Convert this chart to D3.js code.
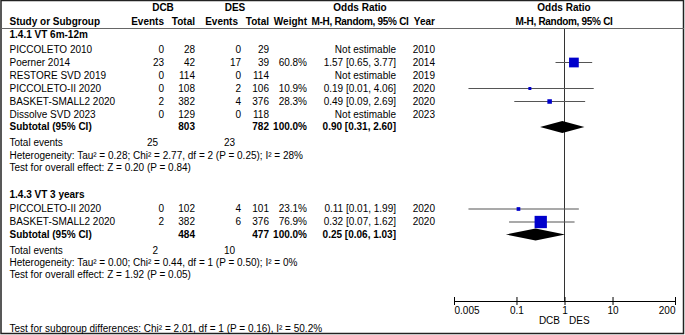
<!DOCTYPE html>
<html lang="en">
<head>
<meta charset="UTF-8">
<title>Forest Plot</title>
<style>
  body { margin: 0; background: #fff; }
  svg text { font-family: "Liberation Sans", Arial, sans-serif; font-size: 10px; fill: #000; }
  .b { font-weight: bold; }
</style>
</head>
<body>
<div id="chart"></div>
<script src="https://d3js.org/d3.v7.min.js"></script>
<script>
// ---- data ----
const g1Title = "1.4.1 VT 6m-12m";
const g1Names = ["PICCOLETO 2010", "Poerner 2014", "RESTORE SVD 2019", "PICCOLETO-II 2020", "BASKET-SMALL2 2020", "Dissolve SVD 2023"];
const g1DcbEvents = [0, 23, 0, 0, 2, 0];
const g1DcbTotal = [28, 42, 114, 108, 382, 129];
const g1DesEvents = [0, 17, 0, 2, 4, 0];
const g1DesTotal = [29, 39, 114, 106, 376, 118];
const g1Weight = [null, 60.8, null, 10.9, 28.3, null];
const g1OR = [null, 1.57, null, 0.19, 0.49, null];
const g1Lo = [null, 0.65, null, 0.01, 0.09, null];
const g1Hi = [null, 3.77, null, 4.06, 2.69, null];
const g1Year = [2010, 2014, 2019, 2020, 2020, 2023];
const g1Sub = [0.90, 0.31, 2.60];
const g1Het = "Heterogeneity: Tau² = 0.28; Chi² = 2.77, df = 2 (P = 0.25); I² = 28%";
const g1Test = "Test for overall effect: Z = 0.20 (P = 0.84)";

const g2Title = "1.4.3 VT 3 years";
const g2Names = ["PICCOLETO-II 2020", "BASKET-SMALL2 2020"];
const g2DcbEvents = [0, 2];
const g2DcbTotal = [102, 382];
const g2DesEvents = [4, 6];
const g2DesTotal = [101, 376];
const g2Weight = [23.1, 76.9];
const g2OR = [0.11, 0.32];
const g2Lo = [0.01, 0.07];
const g2Hi = [1.99, 1.62];
const g2Year = [2020, 2020];
const g2Sub = [0.25, 0.06, 1.03];
const g2Het = "Heterogeneity: Tau² = 0.00; Chi² = 0.44, df = 1 (P = 0.50); I² = 0%";
const g2Test = "Test for overall effect: Z = 1.92 (P = 0.05)";

const subgroupTest = "Test for subgroup differences: Chi² = 2.01, df = 1 (P = 0.16), I² = 50.2%";
const axisTicks = [0.005, 0.1, 1, 10, 200];

// ---- layout ----
const W = 685, H = 335;
const svg = d3.select("#chart").append("svg").attr("width", W).attr("height", H);
svg.append("rect").attr("x", 1).attr("y", 0.5).attr("width", W - 2.5).attr("height", H - 2)
  .attr("fill", "#fff").attr("stroke", "#222").attr("stroke-width", 1.5);

const x = d3.scaleLog().domain([0.005, 200]).range([454, 675]);
const boxSize = d3.scaleLinear().domain([0, 100]).range([0, 16]);
const fmt = d3.format(".2f");
const ciText = (o, l, h) => `${fmt(o)} [${fmt(l)}, ${fmt(h)}]`;

const col = { name: 9.5, dcbE: 164, dcbT: 195, desE: 241, desT: 269, wt: 307, ci: 396, year: 435 };

function txt(xp, y, s, anchor, bold) {
  return svg.append("text").attr("x", xp).attr("y", y + 3.5)
    .attr("text-anchor", anchor || "start").attr("class", bold ? "b" : null).text(s);
}

// header
txt(163, 7, "DCB", "middle", true);
txt(235, 7, "DES", "middle", true);
txt(360, 7, "Odds Ratio", "middle", true);
txt(564, 7, "Odds Ratio", "middle", true);
txt(col.name, 21, "Study or Subgroup", "start", true);
txt(col.dcbE, 21, "Events", "end", true);
txt(col.dcbT, 21, "Total", "end", true);
txt(col.desE - 3, 21, "Events", "end", true);
txt(col.desT, 21, "Total", "end", true);
txt(col.wt, 21, "Weight", "end", true);
txt(360, 21, "M-H, Random, 95% CI", "middle", true).style("letter-spacing", "-0.3px");
txt(col.year, 21, "Year", "end", true);
txt(564, 21, "M-H, Random, 95% CI", "middle", true).style("letter-spacing", "-0.3px");
svg.append("line").attr("x1", 1).attr("x2", W - 1).attr("y1", 28.5).attr("y2", 28.5)
  .attr("stroke", "#666").attr("stroke-width", 1);

// null line
svg.append("line").attr("x1", x(1)).attr("x2", x(1)).attr("y1", 29).attr("y2", 301)
  .attr("stroke", "#333").attr("stroke-width", 1);

function drawGroup(g, top) {
  txt(col.name, top, g.title, "start", true);
  g.names.forEach((n, i) => {
    const y = top + 14.5 + i * 13;
    txt(col.name, y, n);
    txt(col.dcbE, y, g.dcbE[i], "end");
    txt(col.dcbT, y, g.dcbT[i], "end");
    txt(col.desE, y, g.desE[i], "end");
    txt(col.desT, y, g.desT[i], "end");
    if (g.wt[i] != null) {
      txt(col.wt, y, g.wt[i].toFixed(1) + "%", "end");
      txt(col.ci, y, ciText(g.or[i], g.lo[i], g.hi[i]), "end");
      svg.append("line").attr("x1", x(g.lo[i])).attr("x2", x(g.hi[i]))
        .attr("y1", y + 0.5).attr("y2", y + 0.5).attr("stroke", "#555").attr("stroke-width", 1.2);
      const s = Math.max(3, boxSize(g.wt[i]));
      svg.append("rect").attr("x", x(g.or[i]) - s / 2).attr("y", y - s / 2 + 0.5)
        .attr("width", s).attr("height", s).attr("fill", "#0000cc");
    } else {
      txt(col.ci, y, "Not estimable", "end");
    }
    txt(col.year, y, g.year[i], "end");
  });
  const ys = top + 14.5 + g.names.length * 13 - 0.5;
  txt(col.name, ys, "Subtotal (95% CI)", "start", true);
  txt(col.dcbT, ys, d3.sum(g.dcbT), "end", true);
  txt(col.desT, ys, d3.sum(g.desT), "end", true);
  txt(col.wt, ys, "100.0%", "end", true);
  txt(col.ci, ys, ciText(g.sub[0], g.sub[1], g.sub[2]), "end", true);
  const dh = 6;
  svg.append("path")
    .attr("d", `M${x(g.sub[1])},${ys + 0.5} L${x(g.sub[0])},${ys + 0.5 - dh} L${x(g.sub[2])},${ys + 0.5} L${x(g.sub[0])},${ys + 0.5 + dh} Z`)
    .attr("fill", "#000");
  const yt = ys + 16;
  txt(col.name, yt, "Total events");
  txt(col.dcbE - 6, yt, d3.sum(g.dcbE), "end");
  txt(col.desE - 6, yt, d3.sum(g.desE), "end");
  txt(col.name, yt + 12.5, g.het);
  txt(col.name, yt + 24.5, g.test);
}

drawGroup({ title: g1Title, names: g1Names, dcbE: g1DcbEvents, dcbT: g1DcbTotal, desE: g1DesEvents, desT: g1DesTotal,
  wt: g1Weight, or: g1OR, lo: g1Lo, hi: g1Hi, year: g1Year, sub: g1Sub, het: g1Het, test: g1Test }, 34.5);
drawGroup({ title: g2Title, names: g2Names, dcbE: g2DcbEvents, dcbT: g2DcbTotal, desE: g2DesEvents, desT: g2DesTotal,
  wt: g2Weight, or: g2OR, lo: g2Lo, hi: g2Hi, year: g2Year, sub: g2Sub, het: g2Het, test: g2Test }, 194);

// axis
const axis = svg.append("g").attr("transform", "translate(0,301)")
  .call(d3.axisBottom(x).tickValues(axisTicks).tickSize(4).tickSizeOuter(0).tickFormat(d => d));
axis.select(".domain").attr("stroke", "#000");
axis.selectAll(".tick line").attr("y1", -4).attr("stroke", "#000");
axis.selectAll(".tick text").attr("dy", 0).attr("y", 12.5)
  .attr("text-anchor", (d, i) => i === 0 ? "start" : i === axisTicks.length - 1 ? "end" : "middle")
  .style("font-family", "'Liberation Sans', Arial, sans-serif").style("font-size", "10px");
txt(560, 320, "DCB", "end");
txt(569, 320, "DES", "start");

txt(col.name, 328, subgroupTest);
</script>
</body>
</html>
